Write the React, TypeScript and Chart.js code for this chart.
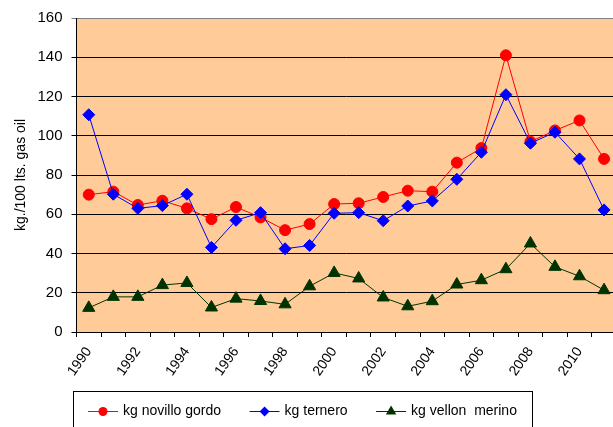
import React, { useEffect, useRef } from 'react';
import { Chart, registerables } from 'chart.js';

Chart.register(...registerables);

const FONT = '"Liberation Sans", Arial, sans-serif';

const years = ['1990', '1991', '1992', '1993', '1994', '1995', '1996', '1997', '1998', '1999', '2000', '2001', '2002', '2003', '2004', '2005', '2006', '2007', '2008', '2009', '2010', '2011'];
const novilloGordo = [70, 71.5, 64.7, 66.9, 63, 57.5, 63.7, 58.4, 51.9, 55, 65.2, 65.6, 68.8, 72, 71.5, 86.3, 93.7, 141, 97, 102.7, 107.8, 88.2];
const ternero = [110.7, 70.2, 63, 64.4, 70.2, 43.1, 56.9, 60.8, 42.4, 44.1, 60.5, 60.8, 56.7, 64.2, 66.8, 77.8, 91.6, 120.9, 96.2, 101.8, 88.2, 62.2];
const vellonMerino = [12.3, 17.9, 17.9, 23.9, 25, 12.5, 17, 15.8, 14.1, 23.3, 30.1, 27.3, 17.6, 13.1, 15.7, 24.2, 26.4, 32, 45.1, 33.2, 28.4, 21.3];
const seriesLabels = ['kg novillo gordo', 'kg ternero', 'kg vellon  merino'];
const yAxisTitle = 'kg./100 lts. gas oil';

function drawMarker(ctx: CanvasRenderingContext2D, style: string, x: number, y: number, r: number, color: string) {
  ctx.beginPath();
  if (style === 'circle') {
    ctx.arc(x, y, r, 0, Math.PI * 2);
  } else if (style === 'rectRot') {
    ctx.moveTo(x - r, y);
    ctx.lineTo(x, y - r);
    ctx.lineTo(x + r, y);
    ctx.lineTo(x, y + r);
    ctx.closePath();
  } else {
    const h = r * 0.866;
    ctx.moveTo(x, y - r);
    ctx.lineTo(x + h, y + r / 2);
    ctx.lineTo(x - h, y + r / 2);
    ctx.closePath();
  }
  ctx.fillStyle = color;
  ctx.fill();
}

const plotBgPlugin = {
  id: 'plotBg',
  beforeDraw(chart: any) {
    const { ctx, chartArea } = chart;
    ctx.save();
    ctx.fillStyle = '#FFCC99';
    ctx.fillRect(chartArea.left, chartArea.top, chartArea.right - chartArea.left, chartArea.bottom - chartArea.top);
    ctx.restore();
  },
};

const boxLegendPlugin = {
  id: 'boxLegend',
  afterDraw(chart: any) {
    const ctx: CanvasRenderingContext2D = chart.ctx;
    ctx.save();
    ctx.font = '14px ' + FONT;
    const lineLen = 30;
    const gapText = 5;
    const itemGap = 28.5;
    const pad = 15;
    const ds = chart.data.datasets;
    const widths = ds.map((d: any) => ctx.measureText(d.label).width);
    let total = pad * 2 + itemGap * (ds.length - 1);
    widths.forEach((w: number) => { total += lineLen + gapText + w; });
    const cx = 302.5;
    const left = Math.round(cx - total / 2);
    const top = 391;
    ctx.strokeStyle = '#000';
    ctx.lineWidth = 1;
    ctx.strokeRect(left + 0.5, top + 0.5, Math.round(total), 80);
    const cy = 411;
    let x = left + pad;
    ds.forEach((d: any, i: number) => {
      ctx.strokeStyle = d.borderColor;
      ctx.lineWidth = 1;
      ctx.beginPath();
      ctx.moveTo(x, cy + 0.5);
      ctx.lineTo(x + lineLen, cy + 0.5);
      ctx.stroke();
      drawMarker(ctx, d.pointStyle, x + lineLen / 2, cy + 0.5, d.legendRadius, d.pointBackgroundColor);
      ctx.fillStyle = '#000';
      ctx.textBaseline = 'middle';
      ctx.textAlign = 'left';
      ctx.fillText(d.label, x + lineLen + gapText, cy);
      x += lineLen + gapText + widths[i] + itemGap;
    });
    ctx.restore();
  },
};

export default function App() {
  const ref = useRef<HTMLCanvasElement | null>(null);

  useEffect(() => {
    if (!ref.current) return;
    const chart = new Chart(ref.current, {
      type: 'line',
      data: {
        labels: years,
        datasets: [
          {
            label: seriesLabels[0],
            data: novilloGordo,
            borderColor: '#FF0000',
            backgroundColor: '#FF0000',
            pointBackgroundColor: '#FF0000',
            pointBorderColor: '#FF0000',
            pointStyle: 'circle',
            pointRadius: 5.5,
            pointBorderWidth: 1,
            borderWidth: 1,
            order: 2,
            legendRadius: 4.5,
          } as any,
          {
            label: seriesLabels[1],
            data: ternero,
            borderColor: '#0000FF',
            backgroundColor: '#0000FF',
            pointBackgroundColor: '#0000FF',
            pointBorderColor: '#0000FF',
            pointStyle: 'rectRot',
            pointRadius: 6,
            pointBorderWidth: 1,
            borderWidth: 1,
            order: 1,
            legendRadius: 5,
          } as any,
          {
            label: seriesLabels[2],
            data: vellonMerino,
            borderColor: '#003300',
            backgroundColor: '#003300',
            pointBackgroundColor: '#003300',
            pointBorderColor: '#003300',
            pointStyle: 'triangle',
            pointRadius: 7,
            pointBorderWidth: 1,
            borderWidth: 1,
            order: 0,
            legendRadius: 6,
          } as any,
        ],
      },
      options: {
        animation: false,
        responsive: false,
        devicePixelRatio: 1,
        layout: { padding: { top: 18, right: 5, left: 0, bottom: 0 } },
        plugins: { legend: { display: false }, tooltip: { enabled: false } },
        scales: {
          x: {
            type: 'category',
            offset: true,
            grid: { offset: true, drawOnChartArea: false, drawTicks: true, tickLength: 5, color: '#000' },
            border: { color: '#000', width: 1 },
            ticks: {
              autoSkip: false,
              minRotation: 55,
              maxRotation: 55,
              padding: 7,
              color: '#000',
              font: { family: FONT, size: 14 },
              callback: (_v: any, i: number) => (i % 2 === 0 ? years[i] : ''),
            },
            afterFit: (s: any) => { s.height = 95; },
          },
          y: {
            min: 0,
            max: 160,
            ticks: { stepSize: 20, padding: 9, color: '#000', font: { family: FONT, size: 15 } },
            grid: { color: (c: any) => (c.tick && c.tick.value === 160 ? '#808080' : '#000'), tickLength: 5 },
            border: { color: '#000' },
            title: {
              display: true,
              text: yAxisTitle,
              color: '#000',
              font: { family: FONT, size: 14 },
              padding: { top: 13, bottom: 0 },
            },
            afterFit: (s: any) => { s.width = 76.5; },
          },
        },
      } as any,
      plugins: [plotBgPlugin, boxLegendPlugin],
    });
    return () => chart.destroy();
  }, []);

  return (
    <div style={{ position: 'fixed', left: 0, top: 0, width: 613, height: 427, overflow: 'hidden', background: '#fff' }}>
      <canvas ref={ref} width={625} height={427} style={{ display: 'block', width: 625, height: 427 }} />
    </div>
  );
}
